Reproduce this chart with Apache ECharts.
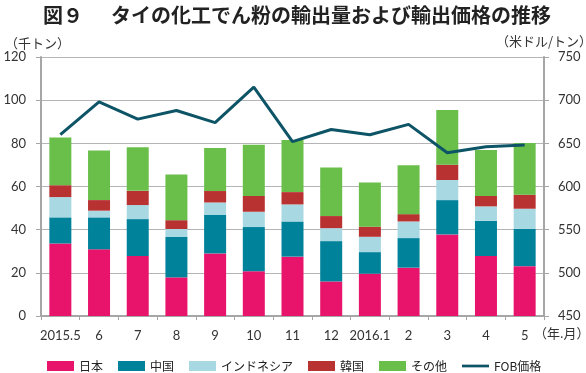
<!DOCTYPE html>
<html>
<head>
<meta charset="utf-8">
<script src="https://cdn.jsdelivr.net/npm/echarts@6/dist/echarts.min.js"></script>
<style>
html,body{margin:0;padding:0;background:#fff;}
#c{width:586px;height:373px;}
</style>
</head>
<body>
<div id="c"></div>
<script>
const categories = ['2015.5','6','7','8','9','10','11','12','2016.1','2','3','4','5'];
const japan     = [33.6, 30.9, 27.8, 17.9, 29.0, 20.7, 27.5, 16.0, 19.6, 22.4, 37.8, 27.8, 23.1];
const china     = [12.1, 14.8, 17.1, 18.7, 17.8, 20.5, 16.3, 18.7, 10.0, 13.7, 15.9, 16.3, 17.3];
const indonesia = [9.4, 3.1, 6.5, 3.7, 5.8, 7.1, 7.9, 6.0, 7.1, 7.7, 9.3, 6.7, 9.3];
const korea     = [5.5, 4.9, 6.6, 4.1, 5.3, 7.3, 5.7, 5.6, 4.7, 3.4, 7.1, 4.8, 6.5];
const others    = [22.1, 23.0, 20.2, 21.2, 19.9, 23.7, 24.1, 22.5, 20.5, 22.7, 25.3, 21.3, 24.0];
const fobPrice  = [660, 698, 678, 688, 674, 715, 652, 666, 660, 672, 639, 646, 648];
const leftTicks = {min: 0, max: 120, interval: 20};
const rightTicks = {min: 450, max: 750, interval: 50};

const seriesNames = ['日本','中国','インドネシア','韓国','その他'];
const seriesData = [japan, china, indonesia, korea, others];
const colors = ['#e8146b','#00829b','#a8d8e2','#b83232','#6abf4b'];
const lineColor = '#0d5466';
const numFont = 'Lato, "Liberation Sans", sans-serif';
const jpFont = '"Noto Sans CJK JP", sans-serif';
const axisGray = '#a6a6a6';

const chart = echarts.init(document.getElementById('c'), null, {renderer: 'canvas'});

const barSeries = seriesNames.map((n, i) => ({
  name: n,
  type: 'bar',
  stack: 'total',
  barWidth: 22,
  itemStyle: {color: colors[i]},
  data: seriesData[i],
  z: 2
}));

chart.setOption({
  animation: false,
  title: [
    {text: '図９', left: 38, top: 0, textStyle: {fontFamily: jpFont, fontSize: 20, fontWeight: 'bold', color: '#222'}},
    {text: 'タイの化工でん粉の輸出量および輸出価格の推移', left: 106, top: 0, textStyle: {fontFamily: jpFont, fontSize: 20, fontWeight: 'bold', color: '#222'}}
  ],
  grid: {left: 41, right: 42, top: 57, bottom: 57, containLabel: false},
  legend: {
    left: 42, top: 355,
    itemWidth: 27, itemHeight: 10, itemGap: 15,
    textStyle: {fontFamily: jpFont, fontSize: 12, color: '#222'},
    data: [
      {name: '日本', icon: 'rect'},
      {name: '中国', icon: 'rect'},
      {name: 'インドネシア', icon: 'rect'},
      {name: '韓国', icon: 'rect'},
      {name: 'その他', icon: 'rect'},
      {name: 'FOB価格', icon: 'path://M0,0 M0,10 M0,3.5 L30,3.5 L30,6.5 L0,6.5 Z', itemStyle: {color: lineColor}}
    ]
  },
  xAxis: {
    type: 'category',
    data: categories,
    boundaryGap: true,
    axisLine: {show: true, lineStyle: {color: axisGray, width: 2}},
    axisTick: {show: true, interval: 0, length: 4, lineStyle: {color: axisGray}},
    axisLabel: {interval: 0, margin: 13, fontFamily: numFont, fontSize: 13, color: '#333'}
  },
  yAxis: [
    {
      type: 'value', min: leftTicks.min, max: leftTicks.max, interval: leftTicks.interval,
      axisLine: {show: true, lineStyle: {color: axisGray, width: 2}},
      axisTick: {show: true, length: 5, lineStyle: {color: axisGray}},
      axisLabel: {margin: 15, fontFamily: numFont, fontSize: 13, color: '#333'},
      splitLine: {show: true, lineStyle: {color: '#b5b5b5', width: 1}}
    },
    {
      type: 'value', min: rightTicks.min, max: rightTicks.max, interval: rightTicks.interval,
      position: 'right',
      axisLine: {show: true, lineStyle: {color: axisGray, width: 2}},
      axisTick: {show: true, length: 5, lineStyle: {color: axisGray}},
      axisLabel: {margin: 14, fontFamily: numFont, fontSize: 13, color: '#333'},
      splitLine: {show: false}
    }
  ],
  graphic: [
    {type: 'text', left: 5, top: 37, style: {text: '（千トン）', font: '13px "Noto Sans CJK JP"', fill: '#333'}},
    {type: 'text', right: -6, top: 35, style: {text: '（米ドル/トン）', font: '13px "Noto Sans CJK JP"', fill: '#333'}},
    {type: 'text', left: 534, top: 327, style: {text: '（年.月）', font: '13px "Noto Sans CJK JP"', fill: '#333'}}
  ],
  series: barSeries.concat([{
    name: 'FOB価格',
    type: 'line',
    yAxisIndex: 1,
    data: fobPrice,
    symbol: 'none',
    lineStyle: {color: lineColor, width: 3},
    itemStyle: {color: lineColor},
    z: 5
  }])
});
</script>
</body>
</html>
